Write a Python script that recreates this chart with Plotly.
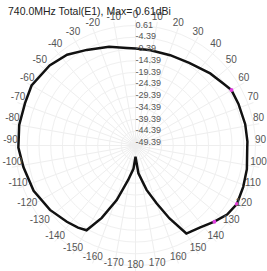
import plotly.graph_objects as go

# Pattern data (angle in degrees, gain in dBi)
theta_deg = [-180, -175, -168, -161, -155, -150, -145, -138, -127, -114, -101, -91, -80, -69,
             -60, -47, -37, -27, -15, -5, 0, 9, 21, 33, 46, 55, 60, 68, 79, 88, 91, 102,
             111, 120, 127, 134, 142, 150, 155, 160, 166, 174, 180]
gain_db = [-45.7, -40.5, -35.5, -25.9, -16.5, -8.8, -7.8, -6.8, -4.9, -3.0, -1.9, -0.6, -0.2, -0.1,
           0.61, -0.5, -2.1, -4.8, -7.0, -8.8, -9.2, -9.4, -9.3, -8.5, -6.3, -4.7, -3.3, -3.2, -2.9, -2.8, -2.9, -2.0,
           -1.35, -0.65, -1.65, -3.8, -6.1, -7.2, -16.2, -24.3, -31.0, -38.6, -45.7]

marker_theta = [60, 120, 134]
marker_gain = [-3.3, -0.65, -3.8]

angle_tickvals = list(range(0, 360, 10))
angle_ticktext = [str(a) if a <= 180 else str(a - 360) for a in angle_tickvals]

radial_tickvals = [0.61, -4.39, -9.39, -14.39, -19.39, -24.39, -29.39, -34.39, -39.39, -44.39, -49.39]
radial_ticktext = ["%.2f" % v for v in radial_tickvals]

title_text = "740.0MHz Total(E1), Max= 0.61dBi"

W, H = 267, 271
cx, cy = 135.5, 145.5
R_data = 120.0            # pixel radius of the 0.61 dBi circle
r_min, r_top = -50.5, 0.61
db_per_px = (r_top - r_min) / R_data
R_ext = 125.5             # outer pixel radius of the polar area (room for rim labels)
r_ext = r_min + R_ext * db_per_px
label_r = r_min + 125.0 * db_per_px

fig = go.Figure()
fig.add_trace(go.Scatterpolar(
    r=gain_db, theta=theta_deg, mode="lines",
    line=dict(color="#111111", width=2.5),
    showlegend=False, hoverinfo="skip"))
fig.add_trace(go.Scatterpolar(
    r=marker_gain, theta=marker_theta, mode="markers",
    marker=dict(color="#e040e0", size=4),
    showlegend=False, hoverinfo="skip"))
# angular tick labels near the rim
fig.add_trace(go.Scatterpolar(
    r=[label_r] * len(angle_tickvals), theta=angle_tickvals, mode="text",
    text=angle_ticktext, textposition="top center",
    textfont=dict(size=10, color="#555555"),
    cliponaxis=False, showlegend=False, hoverinfo="skip"))
# radial tick labels along the 0 degree line
fig.add_trace(go.Scatterpolar(
    r=radial_tickvals, theta=[0] * len(radial_tickvals), mode="text",
    text=radial_ticktext, textposition="middle right",
    textfont=dict(size=9, color="#555555"),
    cliponaxis=False, showlegend=False, hoverinfo="skip"))

fig.update_layout(
    width=W, height=H,
    margin=dict(l=0, r=0, t=0, b=0),
    paper_bgcolor="white",
    font=dict(family="Liberation Sans, Arial, sans-serif", color="#555555"),
    polar=dict(
        domain=dict(x=[(cx - R_ext) / W, (cx + R_ext) / W], y=[max(0, 1 - (cy + R_ext) / H), 1 - (cy - R_ext) / H]),
        bgcolor="white",
        angularaxis=dict(
            rotation=90, direction="clockwise",
            tickmode="array", tickvals=angle_tickvals,
            showticklabels=False,
            ticks="", showline=False,
            gridcolor="#eeeeee", gridwidth=1,
        ),
        radialaxis=dict(
            range=[r_min, r_ext], angle=90,
            tickmode="array", tickvals=radial_tickvals,
            showticklabels=False,
            ticks="", showline=False,
            gridcolor="#f0f0f0", gridwidth=1,
        ),
    ),
    annotations=[dict(
        text=title_text, xref="paper", yref="paper",
        x=6 / W, y=1 - 11 / H, xanchor="left", yanchor="middle",
        showarrow=False, font=dict(size=10.5, color="#222222"))],
)

fig.write_html("out.html", config={"displayModeBar": False},
               post_script="document.body.style.margin='0';")
